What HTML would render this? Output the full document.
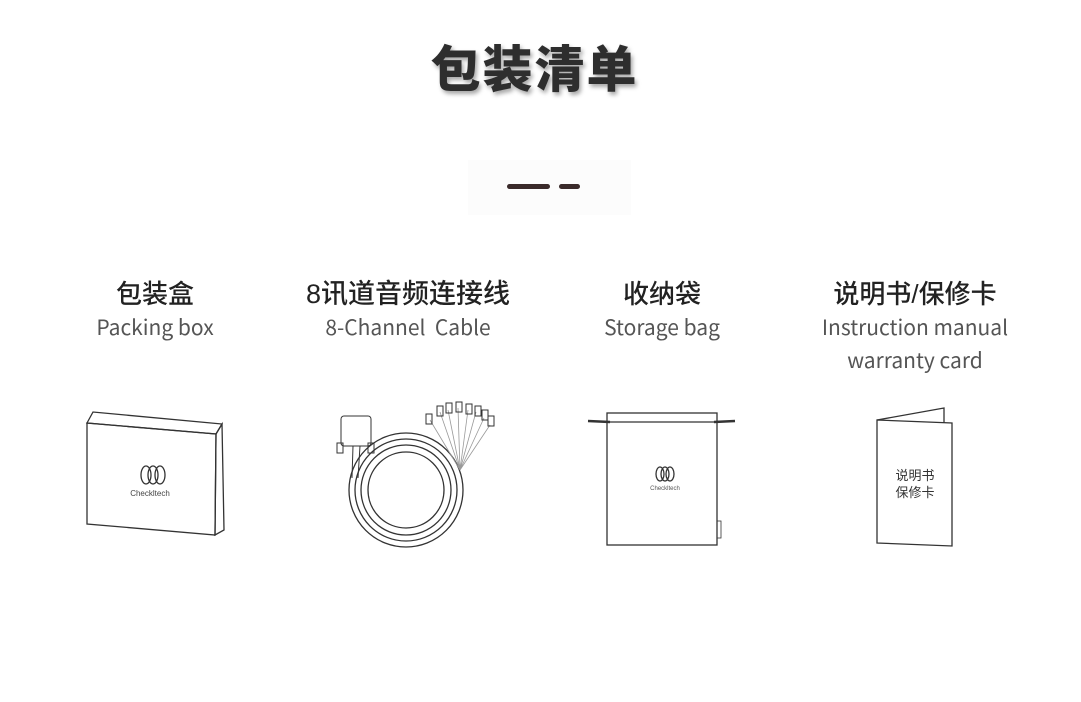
<!DOCTYPE html>
<html><head><meta charset="utf-8"><style>
body{margin:0;width:1081px;height:702px;background:#fff;overflow:hidden;position:relative;font-family:"Liberation Sans","Noto Sans CJK SC",sans-serif}
.t{position:absolute;left:-6px;width:1081px;top:30px;text-align:center;font-size:50px;font-weight:900;color:#2e2e2e;text-shadow:2px 3px 4px rgba(0,0,0,.35);letter-spacing:2px}
.c{position:absolute;text-align:center;width:260px}
.h{font-size:26px;color:#222;font-weight:500;line-height:34px}
.s{font-size:21px;color:#555;line-height:33px;font-family:"Noto Sans CJK SC","Liberation Sans",sans-serif}
</style></head><body>
<div class="t">包装清单</div>
<div style="position:absolute;left:468px;top:160px;width:163px;height:55px;background:#fcfcfc"></div>
<div style="position:absolute;left:507px;top:184px;width:43px;height:5px;border-radius:3px;background:#3a2a2a"></div>
<div style="position:absolute;left:559px;top:184px;width:21px;height:5px;border-radius:3px;background:#3a2a2a"></div>
<div class="c" style="left:25px;top:277px"><div class="h">包装盒</div><div class="s">Packing box</div></div>
<div class="c" style="left:278px;top:277px"><div class="h" style="font-size:27px">8讯道音频连接线</div><div class="s">8-Channel&nbsp; Cable</div></div>
<div class="c" style="left:532px;top:277px"><div class="h">收纳袋</div><div class="s">Storage bag</div></div>
<div class="c" style="left:785px;top:277px"><div class="h">说明书/保修卡</div><div class="s">Instruction manual<br>warranty card</div></div>
<svg width="1081" height="702" style="position:absolute;left:0;top:0" fill="none" stroke="#333" stroke-width="1.3">
<polygon points="87,423 93,412 222,424 216,434"/>
<polygon points="87,423 216,434 215,535 87,524"/>
<polygon points="216,434 222,424 224,530 215,535"/>
<ellipse cx="146" cy="475" rx="5" ry="9"/><ellipse cx="153" cy="475" rx="5" ry="9"/><ellipse cx="160" cy="475" rx="5" ry="9"/>
<text x="150" y="496" font-size="8" fill="#444" stroke="none" text-anchor="middle" font-family="Liberation Sans">Checkltech</text>
<circle cx="406" cy="490" r="57"/><circle cx="406" cy="490" r="51"/><circle cx="406" cy="490" r="45"/><circle cx="406" cy="490" r="38"/>
<rect x="341" y="416" width="30" height="30" rx="3" stroke-width="1"/>
<rect x="337" y="443" width="6" height="10" stroke-width="1"/><rect x="368" y="443" width="6" height="10" stroke-width="1"/>
<path d="M353 446 L352 478 M360 446 L358 478" stroke-width="1"/>
<g stroke="#999" stroke-width="0.8"><path d="M460 470 L430 420 M460 470 L440 412 M460 470 L448 410 M460 470 L458 408 M460 470 L468 410 M460 470 L476 412 M460 470 L484 418 M460 470 L490 425"/></g>
<g stroke-width="1"><rect x="426" y="414" width="6" height="10"/><rect x="437" y="406" width="6" height="10"/><rect x="446" y="403" width="6" height="10"/><rect x="456" y="402" width="6" height="10"/><rect x="466" y="404" width="6" height="10"/><rect x="475" y="406" width="6" height="10"/><rect x="482" y="410" width="6" height="10"/><rect x="488" y="416" width="6" height="10"/></g>
<rect x="607" y="413" width="110" height="132"/><line x1="607" y1="422" x2="717" y2="422"/>
<path d="M588 421 L610 422 M714 422 L735 421" stroke-width="2.5"/>
<rect x="717" y="521" width="4" height="17" stroke-width="0.8"/>
<ellipse cx="660" cy="474" rx="4" ry="7"/><ellipse cx="665" cy="474" rx="4" ry="7"/><ellipse cx="670" cy="474" rx="4" ry="7"/>
<text x="665" y="490" font-size="6" fill="#555" stroke="none" text-anchor="middle" font-family="Liberation Sans">Checkltech</text>
<polygon points="877,420 952,423 952,546 877,543"/>
<polyline points="877,420 944,408 944,423" />
<text x="915" y="480" font-size="13" fill="#333" stroke="none" text-anchor="middle" font-family="Noto Sans CJK SC">说明书</text>
<text x="915" y="497" font-size="13" fill="#333" stroke="none" text-anchor="middle" font-family="Noto Sans CJK SC">保修卡</text>
</svg>
</body></html>
